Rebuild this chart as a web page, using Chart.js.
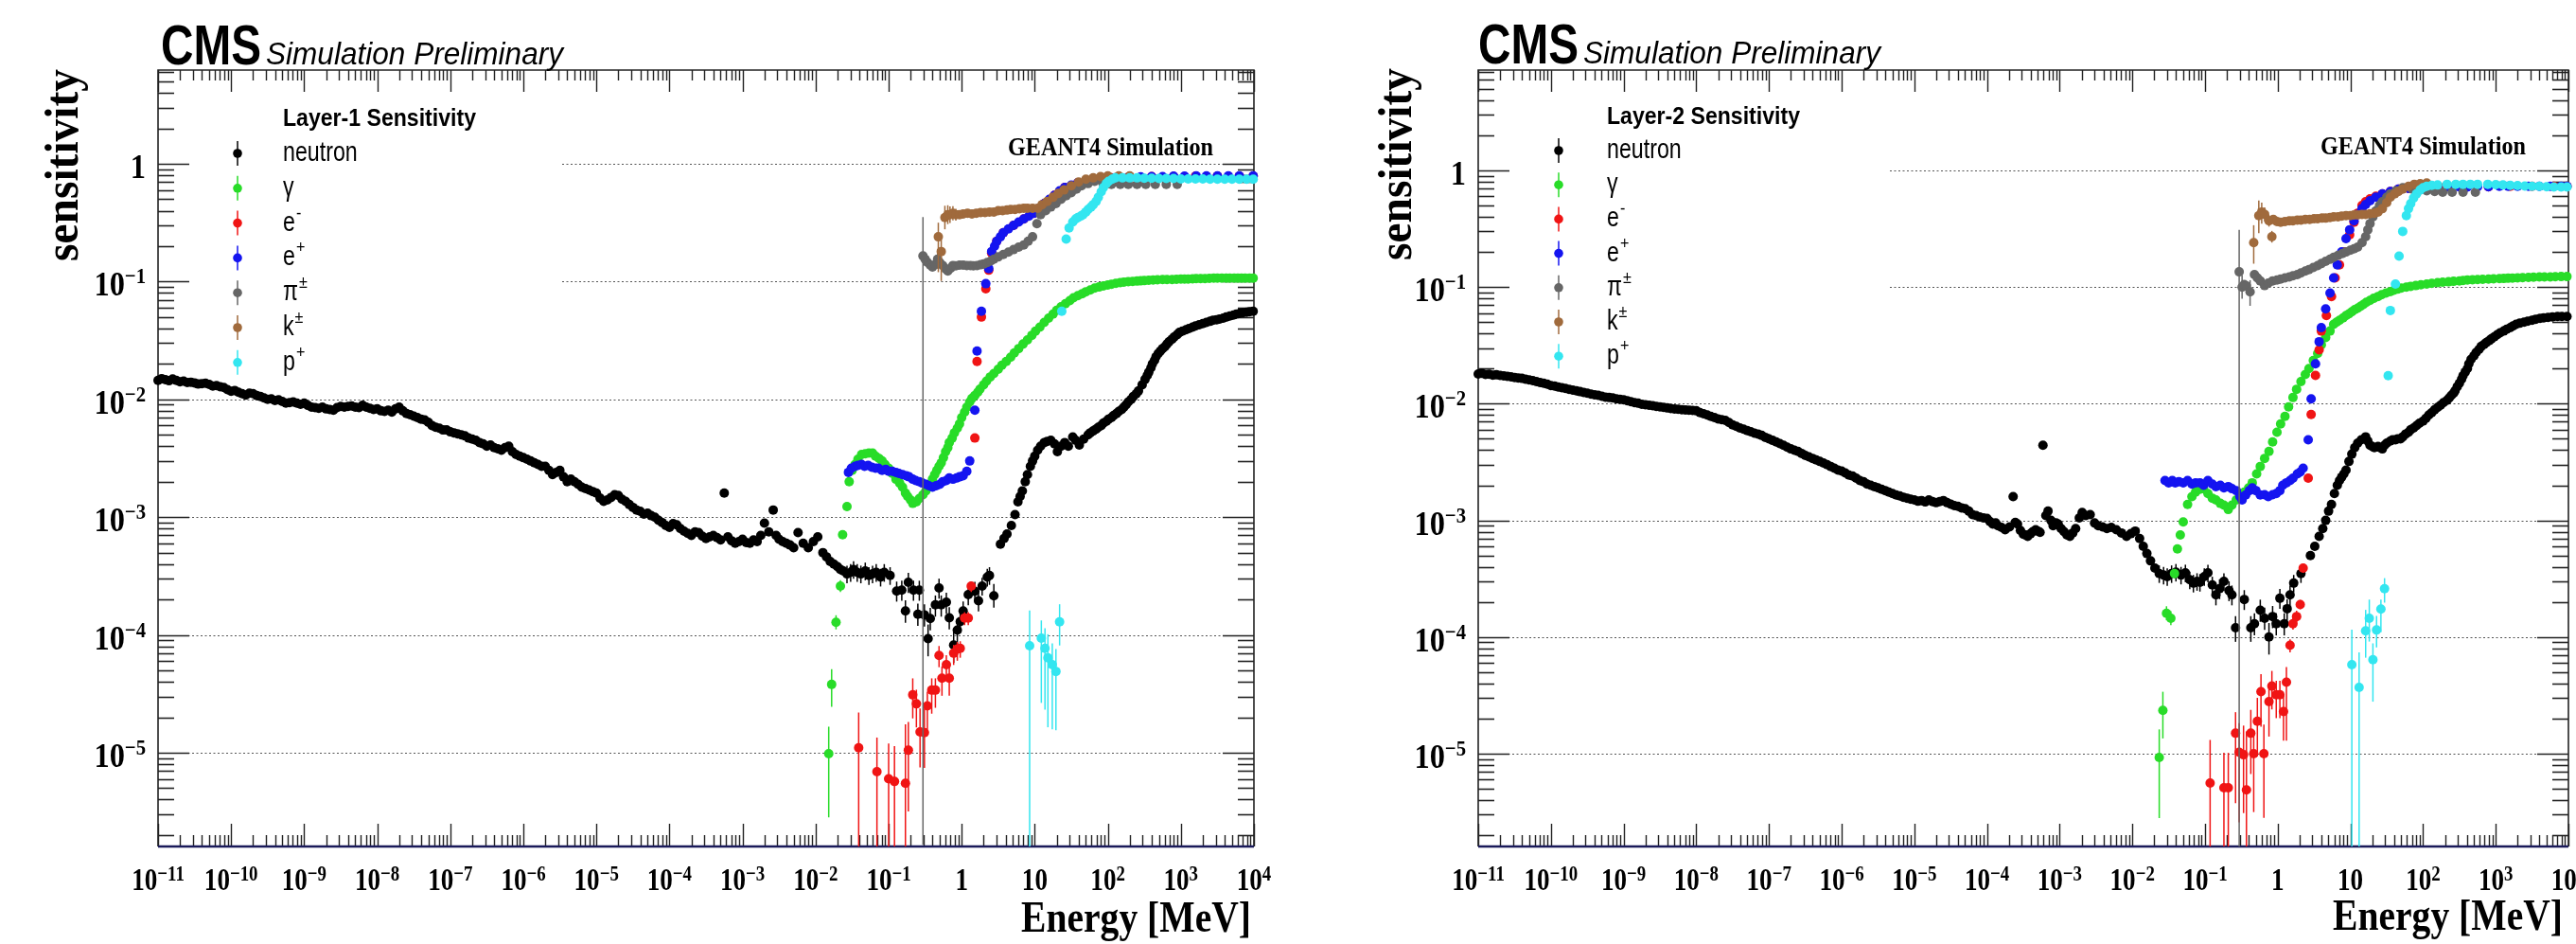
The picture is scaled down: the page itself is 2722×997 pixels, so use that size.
<!DOCTYPE html>
<html>
<head>
<meta charset="utf-8">
<title>CMS Simulation Preliminary - Layer sensitivity</title>
<script src="https://cdn.jsdelivr.net/npm/chart.js@4.4.1/dist/chart.umd.min.js"></script>
<style>
  html, body { margin:0; padding:0; background:#ffffff; }
  #wrap { position:relative; width:2722px; height:997px; overflow:hidden; background:#fff; }
  canvas { position:absolute; top:0; }
</style>
</head>
<body>
<div id="wrap">
  <canvas id="c1" width="1361" height="997" style="left:0px;width:1361px;height:997px"></canvas>
  <canvas id="c2" width="1361" height="997" style="left:1361px;width:1361px;height:997px"></canvas>
</div>
<script>
// ---------------- DATA (points are [log10(E/MeV), sensitivity, errDown(decades), errUp(decades)]) -------------
const seriesNames  = ['neutron', 'γ', 'e-', 'e+', 'π±', 'k±', 'p+'];
const seriesColors = ['#000000', '#28dc28', '#f01414', '#1414f0', '#666666', '#a06a3c', '#33e6f0'];
const legendLabels = [['neutron',''], ['γ',''], ['e','-'], ['e','+'], ['π','±'], ['k','±'], ['p','+']];
const panelTitles  = ['Layer-1 Sensitivity', 'Layer-2 Sensitivity'];

const xTickValues = [1e-11,1e-10,1e-9,1e-8,1e-7,1e-6,1e-5,1e-4,1e-3,1e-2,1e-1,1,10,100,1000,10000];
const xTickLabels = [['10','−11'],['10','−10'],['10','−9'],['10','−8'],['10','−7'],['10','−6'],['10','−5'],
                     ['10','−4'],['10','−3'],['10','−2'],['10','−1'],['1',''],['10',''],['10','2'],['10','3'],['10','4']];
const yTickValues = [1, 1e-1, 1e-2, 1e-3, 1e-4, 1e-5];
const yTickLabels = [['1',''],['10','−1'],['10','−2'],['10','−3'],['10','−4'],['10','−5']];

// ---- Layer-1 ----
const L1_neutron = [
[-11.0,1.45e-2],[-10.95,1.50e-2],[-10.9,1.47e-2],[-10.85,1.44e-2],[-10.8,1.49e-2],[-10.75,1.45e-2],[-10.7,1.41e-2],[-10.65,1.43e-2],[-10.6,1.39e-2],[-10.55,1.40e-2],
[-10.5,1.38e-2],[-10.45,1.35e-2],[-10.4,1.36e-2],[-10.35,1.37e-2],[-10.3,1.34e-2],[-10.25,1.30e-2],[-10.2,1.31e-2],[-10.15,1.28e-2],[-10.1,1.26e-2],[-10.05,1.21e-2],
[-10.0,1.17e-2],[-9.95,1.19e-2],[-9.9,1.15e-2],[-9.85,1.12e-2],[-9.8,1.09e-2],[-9.75,1.13e-2],[-9.7,1.12e-2],[-9.65,1.08e-2],[-9.6,1.06e-2],[-9.55,1.03e-2],
[-9.5,1.00e-2],[-9.45,1.01e-2],[-9.4,9.8e-3],[-9.35,9.9e-3],[-9.3,9.6e-3],[-9.25,9.3e-3],[-9.2,9.4e-3],[-9.15,9.5e-3],[-9.1,9.3e-3],[-9.05,9.1e-3],
[-9.0,9.3e-3],[-8.95,8.9e-3],[-8.9,8.6e-3],[-8.85,8.5e-3],[-8.8,8.4e-3],[-8.75,8.6e-3],[-8.7,8.3e-3],[-8.65,8.2e-3],[-8.6,8.1e-3],[-8.55,8.5e-3],
[-8.5,8.7e-3],[-8.45,8.6e-3],[-8.4,8.7e-3],[-8.35,8.8e-3],[-8.3,8.6e-3],[-8.25,8.5e-3],[-8.2,8.9e-3],[-8.15,8.6e-3],[-8.1,8.4e-3],[-8.05,8.2e-3],
[-8.0,8.3e-3],[-7.95,8.0e-3],[-7.9,7.9e-3],[-7.85,8.1e-3],[-7.8,7.8e-3],[-7.75,8.3e-3],[-7.7,8.6e-3],[-7.65,8.0e-3],[-7.6,7.6e-3],[-7.55,7.4e-3],
[-7.5,7.2e-3],[-7.45,7.0e-3],[-7.4,6.8e-3],[-7.35,6.7e-3],[-7.3,6.4e-3],[-7.25,6.0e-3],[-7.2,5.8e-3],[-7.15,5.7e-3],[-7.1,5.5e-3],[-7.05,5.5e-3],
[-7.0,5.3e-3],[-6.95,5.2e-3],[-6.9,5.1e-3],[-6.85,5.0e-3],[-6.8,4.9e-3],[-6.75,4.7e-3],[-6.7,4.6e-3],[-6.65,4.5e-3],[-6.6,4.3e-3],[-6.55,4.2e-3],
[-6.5,4.0e-3],[-6.45,4.1e-3],[-6.4,3.9e-3],[-6.35,3.8e-3],[-6.3,3.7e-3],[-6.25,3.9e-3],[-6.2,4.0e-3],[-6.15,3.6e-3],[-6.1,3.4e-3],[-6.05,3.3e-3],
[-6.0,3.2e-3],[-5.95,3.1e-3],[-5.9,3.0e-3],[-5.85,2.9e-3],[-5.8,2.8e-3],[-5.75,2.7e-3],[-5.7,2.7e-3],[-5.65,2.5e-3],[-5.6,2.3e-3],[-5.55,2.4e-3],
[-5.5,2.5e-3],[-5.45,2.2e-3],[-5.4,2.0e-3],[-5.35,2.1e-3],[-5.3,2.0e-3],[-5.25,1.9e-3],[-5.2,1.8e-3],[-5.15,1.75e-3],[-5.1,1.7e-3],[-5.05,1.65e-3],
[-5.0,1.6e-3],[-4.95,1.45e-3],[-4.9,1.36e-3],[-4.85,1.40e-3],[-4.8,1.47e-3],[-4.75,1.55e-3],[-4.7,1.53e-3],[-4.65,1.42e-3],[-4.6,1.36e-3],[-4.55,1.28e-3],
[-4.5,1.21e-3],[-4.45,1.15e-3],[-4.4,1.12e-3],[-4.35,1.06e-3],[-4.3,1.08e-3],[-4.25,1.03e-3],[-4.2,1.0e-3],[-4.15,9.4e-4],[-4.1,9.0e-4],[-4.05,8.5e-4],
[-4.0,8.2e-4],[-3.95,8.8e-4],[-3.9,8.6e-4],[-3.85,8.0e-4],[-3.8,7.6e-4],[-3.75,7.3e-4],[-3.7,7.0e-4],[-3.65,7.5e-4],[-3.6,7.4e-4],[-3.55,6.9e-4],
[-3.5,6.6e-4],[-3.45,6.8e-4],[-3.4,7.0e-4],[-3.35,6.7e-4],[-3.3,6.4e-4],[-3.25,1.6e-3],[-3.2,6.8e-4],[-3.15,6.3e-4],[-3.1,6.0e-4],[-3.05,6.2e-4],
[-3.0,6.5e-4],[-2.95,6.1e-4],[-2.9,6.0e-4],[-2.85,6.4e-4],[-2.8,6.2e-4],[-2.75,7.0e-4],[-2.7,8.9e-4],[-2.64,7.5e-4],[-2.58,1.15e-3],[-2.54,7.0e-4],
[-2.5,6.5e-4],[-2.45,6.2e-4],[-2.4,6.0e-4],[-2.35,5.8e-4],[-2.3,5.5e-4],[-2.24,7.4e-4],[-2.17,6.0e-4],[-2.1,5.5e-4],[-2.03,6.2e-4],[-1.97,6.8e-4],
[-1.9,5.0e-4],[-1.85,4.6e-4],[-1.8,4.2e-4],[-1.75,4.0e-4],[-1.7,3.8e-4],[-1.66,3.6e-4],[-1.62,3.5e-4],
[-1.57,3.3e-4,0.08,0.07],[-1.52,3.4e-4,0.08,0.07],[-1.48,3.6e-4,0.08,0.07],[-1.43,3.4e-4,0.08,0.07],[-1.38,3.3e-4,0.08,0.07],[-1.32,3.5e-4,0.08,0.07],
[-1.27,3.2e-4,0.08,0.07],[-1.22,3.3e-4,0.08,0.07],[-1.17,3.4e-4,0.08,0.07],[-1.11,3.1e-4,0.08,0.07],[-1.06,3.4e-4,0.08,0.07],
[-0.98,3.2e-4,0.08,0.07],[-0.89,2.36e-4,0.09,0.08],[-0.82,2.4e-4,0.09,0.08],[-0.77,1.6e-4,0.1,0.09],[-0.73,2.8e-4,0.09,0.08],[-0.66,2.4e-4,0.09,0.08],
[-0.60,1.5e-4,0.1,0.09],[-0.58,2.4e-4,0.09,0.08],[-0.51,1.48e-4,0.1,0.09],[-0.46,9.3e-5,0.15,0.12],[-0.43,1.38e-4,0.1,0.09],[-0.36,1.8e-4,0.1,0.08],
[-0.31,2.5e-4,0.09,0.08],[-0.28,1.8e-4,0.1,0.08],[-0.21,1.9e-4,0.1,0.08],[-0.17,1.4e-4,0.1,0.09],[-0.11,8.2e-5,0.15,0.12],[-0.06,1.1e-4,0.12,0.1],
[-0.02,1.3e-4,0.1,0.09],[0.02,1.6e-4,0.1,0.08],[0.09,2.2e-4,0.09,0.08],[0.18,2.35e-4,0.09,0.08],[0.23,1.95e-4,0.09,0.08],[0.28,2.6e-4,0.08,0.07],
[0.35,3.1e-4,0.08,0.07],[0.38,3.2e-4,0.08,0.07],[0.44,2.15e-4,0.1,0.1],
[0.53,5.9e-4],[0.58,6.6e-4],[0.62,7.2e-4],[0.68,8.5e-4],[0.73,1.05e-3],[0.77,1.35e-3],[0.80,1.5e-3],[0.83,1.67e-3],[0.87,2.0e-3],[0.90,2.3e-3],
[0.94,2.7e-3],[0.97,3.0e-3],[1.00,3.3e-3],[1.04,3.7e-3],[1.08,4.0e-3],[1.13,4.3e-3],[1.17,4.4e-3],[1.22,4.5e-3],[1.27,4.2e-3],[1.31,3.6e-3],
[1.36,4.0e-3],[1.41,4.3e-3],[1.46,4.0e-3],[1.52,4.8e-3],[1.56,4.5e-3],[1.61,4.1e-3],[1.67,4.6e-3],[1.73,5.0e-3],[1.76,5.2e-3],[1.80,5.4e-3],
[1.84,5.6e-3],[1.87,5.8e-3],[1.91,6.0e-3],[1.94,6.3e-3],[1.98,6.5e-3],[2.01,6.8e-3],[2.05,7.0e-3],[2.08,7.3e-3],[2.12,7.6e-3],[2.15,7.9e-3],
[2.19,8.2e-3],[2.22,8.6e-3],[2.25,9.0e-3],[2.28,9.5e-3],[2.32,1.0e-2],[2.35,1.06e-2],[2.39,1.12e-2],[2.42,1.18e-2],[2.47,1.33e-2],[2.51,1.48e-2],
[2.54,1.6e-2],[2.56,1.7e-2],[2.59,1.85e-2],[2.61,2.0e-2],[2.64,2.15e-2],[2.66,2.3e-2],[2.69,2.45e-2],[2.72,2.57e-2],[2.75,2.7e-2],[2.78,2.8e-2],
[2.81,2.95e-2],[2.84,3.1e-2],[2.88,3.25e-2],[2.91,3.4e-2],[2.95,3.55e-2],[2.98,3.7e-2],[3.02,3.8e-2],[3.07,3.9e-2],[3.11,4.0e-2],[3.16,4.1e-2],
[3.20,4.2e-2],[3.25,4.3e-2],[3.30,4.4e-2],[3.35,4.5e-2],[3.40,4.6e-2],[3.44,4.7e-2],[3.49,4.75e-2],[3.53,4.8e-2],[3.58,4.9e-2],[3.62,5.0e-2],
[3.67,5.1e-2],[3.72,5.2e-2],[3.76,5.3e-2],[3.81,5.4e-2],[3.85,5.45e-2],[3.90,5.5e-2],[3.94,5.55e-2],[3.99,5.6e-2]
];
const L1_gamma = [
[-1.82,9.8e-6,0.54,0.23],[-1.78,3.8e-5,0.19,0.13],[-1.72,1.28e-4,0.06,0.06],[-1.66,2.6e-4,0.05,0.05],[-1.63,7.1e-4],[-1.57,1.23e-3],[-1.54,2.0e-3],
[-1.50,2.5e-3],[-1.46,2.8e-3],[-1.42,3.1e-3],[-1.37,3.4e-3],[-1.32,3.45e-3],[-1.27,3.5e-3],[-1.22,3.5e-3],[-1.18,3.3e-3],[-1.13,3.15e-3],[-1.09,3.0e-3],
[-1.05,2.8e-3],[-1.00,2.6e-3],[-0.95,2.35e-3],[-0.90,2.1e-3],[-0.85,1.95e-3],[-0.81,1.8e-3],[-0.77,1.6e-3],[-0.74,1.5e-3],[-0.70,1.4e-3],[-0.67,1.31e-3],
[-0.62,1.35e-3],[-0.58,1.44e-3],[-0.53,1.55e-3],[-0.49,1.67e-3],[-0.45,1.85e-3],[-0.40,2.1e-3],[-0.37,2.3e-3],[-0.34,2.5e-3],[-0.31,2.7e-3],[-0.28,2.9e-3],
[-0.25,3.2e-3],[-0.22,3.6e-3],[-0.19,3.9e-3],[-0.17,4.3e-3],[-0.13,4.7e-3],[-0.10,5.2e-3],[-0.06,5.7e-3],[-0.03,6.2e-3],[0.00,7.0e-3],[0.04,7.8e-3],
[0.07,8.6e-3],[0.11,9.5e-3],[0.14,1.02e-2],[0.18,1.08e-2],[0.22,1.15e-2],[0.25,1.22e-2],[0.30,1.33e-2],[0.34,1.43e-2],[0.39,1.55e-2],[0.44,1.66e-2],
[0.50,1.8e-2],[0.55,1.95e-2],[0.61,2.1e-2],[0.67,2.28e-2],[0.72,2.48e-2],[0.78,2.7e-2],[0.84,2.95e-2],[0.90,3.2e-2],[0.96,3.5e-2],
[1.01,3.8e-2],[1.07,4.1e-2],[1.13,4.5e-2],[1.19,4.9e-2],[1.25,5.3e-2],[1.30,5.7e-2],[1.36,6.1e-2],[1.42,6.5e-2],[1.48,6.9e-2],[1.53,7.3e-2],
[1.59,7.6e-2],[1.65,7.9e-2],[1.70,8.2e-2],[1.76,8.5e-2],[1.82,8.8e-2],[1.88,9.0e-2],[1.94,9.2e-2],[2.00,9.35e-2],[2.05,9.5e-2],[2.11,9.65e-2],
[2.17,9.8e-2],[2.22,9.9e-2],[2.28,0.100],[2.34,0.1005],[2.40,0.101],[2.45,0.1015],[2.50,0.102],[2.56,0.1025],[2.62,0.103],[2.68,0.1035],
[2.75,0.104],[2.81,0.104],[2.88,0.104],[2.94,0.1045],[3.00,0.105],[3.05,0.105],[3.10,0.105],[3.16,0.1055],[3.21,0.106],[3.27,0.106],
[3.33,0.106],[3.39,0.1065],[3.45,0.107],[3.50,0.107],[3.56,0.107],[3.62,0.107],[3.67,0.107],[3.73,0.107],[3.78,0.107],[3.83,0.107],
[3.88,0.107],[3.94,0.107],[3.99,0.107]
];
const L1_eminus = [
[-1.41,1.1e-5,3,0.3],[-1.16,6.9e-6,3,0.29],[-1.00,6.0e-6,3,0.3],[-0.92,5.7e-6,3,0.3],[-0.77,5.5e-6,3,0.5],[-0.73,1.05e-5,0.52,0.24],
[-0.67,3.1e-5,0.2,0.14],[-0.62,2.6e-5,0.2,0.12],[-0.57,1.5e-5,0.3,0.2],[-0.51,1.48e-5,0.3,0.2],[-0.47,2.5e-5,0.2,0.12],[-0.41,3.4e-5,0.2,0.1],
[-0.36,3.4e-5,0.15,0.1],[-0.31,6.7e-5,0.1,0.08],[-0.27,4.3e-5,0.15,0.1],[-0.21,5.6e-5,0.12,0.08],[-0.17,4.3e-5,0.15,0.1],[-0.11,7.0e-5,0.1,0.07],
[-0.06,7.6e-5,0.1,0.06],[-0.02,7.7e-5,0.08,0.06],[0.04,1.39e-4,0.06,0.05],[0.09,1.39e-4,0.06,0.05],[0.13,2.6e-4,0.05,0.04],
[0.18,4.7e-3],[0.21,2.1e-2],[0.27,5.0e-2],[0.33,8.7e-2],[0.37,0.125],[0.41,0.175],[0.48,0.22],[0.57,0.26],[0.71,0.30],[0.85,0.34],[0.99,0.38],
[1.13,0.46],[1.27,0.54],[1.41,0.63],[1.59,0.69],[1.82,0.73],[2.05,0.76],[2.3,0.77],[2.6,0.78],[2.9,0.78],[3.2,0.785],[3.5,0.785],[3.8,0.785],[3.99,0.785]
];
const L1_eplus = [
[-1.55,2.4e-3],[-1.51,2.6e-3],[-1.46,2.7e-3],[-1.42,2.75e-3],[-1.37,2.8e-3],[-1.33,2.7e-3],[-1.28,2.75e-3],[-1.23,2.65e-3],[-1.18,2.6e-3],[-1.14,2.6e-3],
[-1.09,2.5e-3],[-1.04,2.55e-3],[-1.00,2.45e-3],[-0.95,2.45e-3],[-0.90,2.4e-3],[-0.86,2.35e-3],[-0.81,2.3e-3],[-0.76,2.25e-3],[-0.72,2.2e-3],[-0.67,2.1e-3],
[-0.63,2.05e-3],[-0.58,2.0e-3],[-0.54,1.95e-3],[-0.49,1.9e-3],[-0.45,1.85e-3],[-0.40,1.8e-3],[-0.35,1.85e-3],[-0.30,1.9e-3],[-0.26,2.0e-3],[-0.21,2.05e-3],
[-0.17,2.15e-3],[-0.12,2.1e-3],[-0.07,2.15e-3],[-0.03,2.2e-3],[0.02,2.25e-3],[0.07,2.45e-3],[0.11,3.0e-3],[0.18,8.1e-3],[0.21,2.57e-2],[0.27,5.6e-2],
[0.33,9.6e-2],[0.37,0.129],[0.41,0.18],[0.45,0.20],[0.48,0.22],[0.53,0.24],[0.57,0.26],[0.64,0.28],[0.71,0.30],[0.78,0.32],[0.85,0.34],[0.92,0.36],
[0.99,0.38],[1.06,0.42],[1.13,0.46],[1.20,0.50],[1.27,0.54],[1.34,0.59],[1.41,0.63],[1.50,0.66],[1.59,0.69],[1.70,0.71],[1.82,0.73],[1.95,0.75],
[2.10,0.76],[2.28,0.77],[2.45,0.775],[2.60,0.78],[2.75,0.78],[2.90,0.785],[3.05,0.785],[3.21,0.79],[3.35,0.79],[3.50,0.79],[3.65,0.79],[3.80,0.79],[3.99,0.79]
];
const L1_pion = [
[-0.53,0.165,5,0.33],[-0.50,0.155],[-0.47,0.146],[-0.43,0.138],[-0.40,0.133],[-0.36,0.14],[-0.33,0.155,0.08,0.07],[-0.30,0.145],[-0.26,0.137],
[-0.22,0.128],[-0.19,0.123],[-0.15,0.13],[-0.12,0.137],[-0.08,0.136],[-0.03,0.138],[0.02,0.138],[0.07,0.137],[0.12,0.137],[0.16,0.136],[0.21,0.137],
[0.26,0.139],[0.30,0.141],[0.35,0.145],[0.40,0.15],[0.44,0.155],[0.50,0.162],[0.57,0.17],[0.64,0.178],[0.71,0.187],[0.78,0.196],[0.85,0.205],
[0.91,0.22],[0.97,0.24],[1.03,0.31],[1.08,0.37],[1.15,0.40],[1.22,0.43],[1.29,0.46],[1.36,0.50],[1.43,0.535],[1.50,0.57],[1.57,0.61],[1.64,0.65],
[1.73,0.68],[1.82,0.71],[1.93,0.69],[2.05,0.67],[2.17,0.67],[2.28,0.67],[2.40,0.67],[2.52,0.67],[2.65,0.67],[2.80,0.67],[2.95,0.67]
];
const L1_kaon = [
[-0.32,0.24,0.3,0.12],[-0.28,0.18,0.25,0.1],[-0.23,0.35,0.1,0.1],[-0.19,0.37,0.08,0.08],[-0.16,0.37,0.07,0.07],[-0.12,0.38,0.06,0.06],
[-0.08,0.37,0.05,0.05],[-0.03,0.37],[0.02,0.375],[0.08,0.38],[0.14,0.375],[0.20,0.38],[0.26,0.385],[0.32,0.385],[0.38,0.39],[0.44,0.39],[0.50,0.40],
[0.56,0.40],[0.62,0.405],[0.67,0.41],[0.73,0.41],[0.79,0.415],[0.85,0.42],[0.90,0.42],[0.97,0.42],[1.04,0.42],[1.10,0.45],[1.17,0.48],[1.25,0.52],
[1.32,0.56],[1.40,0.60],[1.50,0.65],[1.60,0.70],[1.70,0.74],[1.80,0.76],[1.90,0.78],[2.00,0.79],[2.15,0.79],[2.30,0.79]
];
const L1_proton = [
[0.93,8.1e-5,5,0.3],[1.09,9.4e-5,0.55,0.15],[1.14,7.7e-5,0.52,0.17],[1.18,6.4e-5,0.59,0.2],[1.24,5.6e-5,0.55,0.18],[1.29,4.9e-5,0.5,0.19],
[1.34,1.29e-4,0.2,0.15],
[1.37,5.6e-2],[1.43,0.23],[1.47,0.285],[1.52,0.32],[1.56,0.34],[1.59,0.35],[1.63,0.36],[1.66,0.37],[1.70,0.39],[1.73,0.41],[1.77,0.43],[1.80,0.45],
[1.84,0.48],[1.87,0.52],[1.91,0.58],[1.94,0.63],[1.98,0.68],[2.01,0.71],[2.06,0.74],[2.10,0.76],[2.20,0.76],[2.30,0.76],[2.40,0.76],[2.50,0.755],
[2.60,0.755],[2.70,0.75],[2.80,0.75],[2.90,0.75],[3.00,0.745],[3.10,0.745],[3.20,0.745],[3.30,0.745],[3.40,0.74],[3.50,0.74],[3.60,0.74],[3.70,0.74],
[3.80,0.74],[3.90,0.74],[3.99,0.74]
];

// ---- Layer-2 ----
const L2_neutron = [
[-11.0,1.80e-2],[-10.95,1.82e-2],[-10.9,1.78e-2],[-10.85,1.79e-2],[-10.8,1.76e-2],[-10.75,1.77e-2],[-10.7,1.75e-2],[-10.65,1.73e-2],[-10.6,1.72e-2],[-10.55,1.70e-2],
[-10.5,1.68e-2],[-10.45,1.66e-2],[-10.4,1.65e-2],[-10.35,1.62e-2],[-10.3,1.60e-2],[-10.25,1.58e-2],[-10.2,1.55e-2],[-10.15,1.52e-2],[-10.1,1.50e-2],[-10.05,1.47e-2],
[-10.0,1.43e-2],[-9.95,1.42e-2],[-9.9,1.39e-2],[-9.85,1.37e-2],[-9.8,1.35e-2],[-9.75,1.33e-2],[-9.7,1.31e-2],[-9.65,1.29e-2],[-9.6,1.27e-2],[-9.55,1.25e-2],
[-9.5,1.23e-2],[-9.45,1.21e-2],[-9.4,1.19e-2],[-9.35,1.18e-2],[-9.3,1.16e-2],[-9.25,1.14e-2],[-9.2,1.13e-2],[-9.15,1.12e-2],[-9.1,1.10e-2],[-9.05,1.09e-2],
[-9.0,1.08e-2],[-8.95,1.06e-2],[-8.9,1.04e-2],[-8.85,1.02e-2],[-8.8,1.01e-2],[-8.75,9.9e-3],[-8.7,9.8e-3],[-8.65,9.7e-3],[-8.6,9.6e-3],[-8.55,9.5e-3],
[-8.5,9.4e-3],[-8.45,9.3e-3],[-8.4,9.2e-3],[-8.35,9.1e-3],[-8.3,9.0e-3],[-8.25,8.95e-3],[-8.2,8.9e-3],[-8.15,8.85e-3],[-8.1,8.8e-3],[-8.05,8.75e-3],
[-8.0,8.7e-3],[-7.95,8.4e-3],[-7.9,8.2e-3],[-7.85,8.0e-3],[-7.8,7.8e-3],[-7.75,7.6e-3],[-7.7,7.4e-3],[-7.65,7.3e-3],[-7.6,7.2e-3],[-7.55,6.9e-3],
[-7.5,6.6e-3],[-7.45,6.4e-3],[-7.4,6.2e-3],[-7.35,6.05e-3],[-7.3,5.9e-3],[-7.25,5.75e-3],[-7.2,5.6e-3],[-7.15,5.5e-3],[-7.1,5.35e-3],[-7.05,5.15e-3],
[-7.0,5.0e-3],[-6.95,4.85e-3],[-6.9,4.7e-3],[-6.85,4.55e-3],[-6.8,4.4e-3],[-6.75,4.25e-3],[-6.7,4.1e-3],[-6.65,4.0e-3],[-6.6,3.9e-3],[-6.55,3.75e-3],
[-6.5,3.6e-3],[-6.45,3.5e-3],[-6.4,3.4e-3],[-6.35,3.3e-3],[-6.3,3.2e-3],[-6.25,3.1e-3],[-6.2,3.0e-3],[-6.15,2.9e-3],[-6.1,2.8e-3],[-6.05,2.7e-3],
[-6.0,2.65e-3],[-5.95,2.55e-3],[-5.9,2.45e-3],[-5.85,2.4e-3],[-5.8,2.3e-3],[-5.75,2.2e-3],[-5.7,2.15e-3],[-5.65,2.05e-3],[-5.6,2.0e-3],[-5.55,1.95e-3],
[-5.5,1.9e-3],[-5.45,1.85e-3],[-5.4,1.8e-3],[-5.35,1.75e-3],[-5.3,1.7e-3],[-5.25,1.65e-3],[-5.2,1.62e-3],[-5.15,1.58e-3],[-5.1,1.55e-3],[-5.05,1.52e-3],
[-5.0,1.5e-3],[-4.95,1.46e-3],[-4.9,1.48e-3],[-4.85,1.44e-3],[-4.8,1.5e-3],[-4.75,1.45e-3],[-4.7,1.42e-3],[-4.65,1.45e-3],[-4.6,1.48e-3],[-4.55,1.42e-3],
[-4.5,1.38e-3],[-4.45,1.34e-3],[-4.4,1.32e-3],[-4.35,1.28e-3],[-4.3,1.26e-3],[-4.25,1.2e-3],[-4.2,1.12e-3],[-4.15,1.1e-3],[-4.1,1.07e-3],[-4.05,1.05e-3],
[-4.0,1.04e-3],[-3.96,9.8e-4],[-3.92,9.3e-4],[-3.88,9.5e-4],[-3.85,9.0e-4],[-3.8,8.7e-4],[-3.75,8.3e-4],[-3.69,8.8e-4],[-3.64,1.6e-3],[-3.61,9.6e-4],
[-3.58,9.3e-4],[-3.54,8.2e-4],[-3.50,7.6e-4],[-3.47,7.5e-4],[-3.44,7.3e-4],[-3.40,7.7e-4],[-3.37,8.0e-4],[-3.33,8.3e-4],[-3.30,8.1e-4],[-3.27,7.9e-4],
[-3.23,4.4e-3],[-3.19,1.1e-3],[-3.16,1.2e-3],[-3.12,1.0e-3],[-3.09,9.0e-4],[-3.05,9.5e-4],[-3.02,9.3e-4],[-2.98,8.5e-4],[-2.94,8.0e-4],[-2.90,7.5e-4],
[-2.86,7.3e-4],[-2.82,7.8e-4],[-2.78,8.5e-4],[-2.73,1.05e-3],[-2.69,1.17e-3],[-2.64,1.1e-3],[-2.58,1.12e-3],[-2.52,9.5e-4],[-2.47,9.0e-4],[-2.41,8.8e-4],
[-2.35,8.5e-4],[-2.29,8.7e-4],[-2.22,8.3e-4],[-2.15,7.8e-4],[-2.08,7.3e-4],[-2.02,7.7e-4],[-1.96,8.1e-4],[-1.90,7.0e-4],[-1.85,6.0e-4],[-1.80,5.2e-4],
[-1.75,4.5e-4],[-1.69,3.9e-4],
[-1.63,3.5e-4,0.08,0.07],[-1.57,3.4e-4,0.08,0.07],[-1.52,3.3e-4,0.08,0.07],[-1.46,3.5e-4,0.08,0.07],[-1.40,3.6e-4,0.08,0.07],[-1.33,3.4e-4,0.08,0.07],
[-1.27,3.55e-4,0.08,0.07],[-1.21,3.1e-4,0.08,0.07],[-1.16,2.9e-4,0.08,0.07],[-1.11,3.0e-4,0.08,0.07],[-1.07,2.95e-4,0.08,0.07],[-1.01,3.3e-4,0.08,0.07],
[-0.96,3.55e-4,0.08,0.07],[-0.90,2.8e-4,0.08,0.07],[-0.85,2.3e-4,0.09,0.08],[-0.80,2.6e-4,0.09,0.08],[-0.74,3.0e-4,0.08,0.07],[-0.67,2.5e-4,0.09,0.08],
[-0.63,2.3e-4,0.09,0.08],[-0.58,1.2e-4,0.12,0.1],
[-0.46,2.1e-4,0.09,0.08],[-0.37,1.2e-4,0.12,0.1],[-0.32,1.3e-4,0.1,0.09],[-0.24,1.7e-4,0.1,0.09],[-0.18,1.45e-4,0.1,0.09],[-0.12,1.0e-4,0.15,0.12],
[-0.07,1.5e-4,0.1,0.09],[-0.02,1.3e-4,0.1,0.09],[0.03,2.15e-4,0.09,0.08],[0.09,1.3e-4,0.1,0.09],[0.13,1.75e-4,0.1,0.08],[0.17,2.3e-4,0.09,0.08],
[0.22,2.9e-4,0.08,0.07],[0.32,3.5e-4,0.08,0.07],
[0.45,5.0e-4],[0.51,6.0e-4],[0.57,7.3e-4],[0.62,8.5e-4],[0.66,1.0e-3],[0.70,1.2e-3],[0.74,1.37e-3],[0.78,1.7e-3],[0.82,2.0e-3],[0.85,2.2e-3],[0.88,2.35e-3],
[0.91,2.5e-3],[0.94,2.7e-3],[0.98,3.2e-3],[1.02,3.7e-3],[1.06,4.2e-3],[1.10,4.6e-3],[1.15,4.9e-3],[1.21,5.2e-3],[1.24,4.8e-3],[1.27,4.4e-3],
[1.30,4.3e-3],[1.33,4.2e-3],[1.38,4.3e-3],[1.41,4.2e-3],[1.44,4.1e-3],[1.47,4.4e-3],[1.50,4.6e-3],[1.55,4.8e-3],[1.58,4.9e-3],[1.62,4.9e-3],
[1.65,5.0e-3],[1.69,5.0e-3],[1.72,5.2e-3],[1.76,5.5e-3],[1.80,5.7e-3],[1.83,6.0e-3],[1.87,6.2e-3],[1.91,6.5e-3],[1.95,6.8e-3],[2.00,7.1e-3],
[2.04,7.5e-3],[2.08,8.0e-3],[2.12,8.4e-3],[2.16,8.9e-3],[2.20,9.3e-3],[2.24,9.7e-3],[2.28,1.02e-2],[2.33,1.07e-2],[2.36,1.12e-2],[2.39,1.18e-2],
[2.42,1.23e-2],[2.44,1.29e-2],[2.47,1.4e-2],[2.50,1.5e-2],[2.53,1.62e-2],[2.55,1.74e-2],[2.58,1.87e-2],[2.61,2.0e-2],[2.63,2.2e-2],[2.66,2.4e-2],
[2.70,2.58e-2],[2.73,2.75e-2],[2.77,2.92e-2],[2.80,3.1e-2],[2.84,3.22e-2],[2.87,3.35e-2],[2.91,3.48e-2],[2.94,3.6e-2],[2.98,3.75e-2],[3.02,3.9e-2],
[3.06,4.05e-2],[3.11,4.2e-2],[3.15,4.35e-2],[3.20,4.5e-2],[3.24,4.65e-2],[3.28,4.8e-2],[3.33,4.9e-2],[3.39,5.0e-2],[3.44,5.1e-2],[3.50,5.2e-2],
[3.55,5.3e-2],[3.61,5.4e-2],[3.66,5.45e-2],[3.72,5.5e-2],[3.78,5.55e-2],[3.85,5.6e-2],[3.91,5.6e-2],[3.98,5.6e-2]
];
const L2_gamma = [
[-1.63,9.3e-6,0.52,0.24],[-1.58,2.35e-5,0.24,0.16],[-1.53,1.6e-4,0.06,0.06],[-1.47,1.45e-4,0.06,0.06],[-1.42,3.5e-4,0.04,0.04],[-1.38,5.7e-4],
[-1.34,7.5e-4],[-1.30,9.7e-4],[-1.24,1.37e-3],[-1.18,1.6e-3],[-1.13,1.75e-3],[-1.07,1.85e-3],[-1.02,1.87e-3],[-0.96,1.7e-3],[-0.90,1.55e-3],
[-0.85,1.5e-3],[-0.79,1.4e-3],[-0.74,1.35e-3],[-0.68,1.24e-3],[-0.63,1.35e-3],[-0.57,1.5e-3],[-0.52,1.6e-3],[-0.46,1.75e-3],[-0.40,1.9e-3],
[-0.35,2.1e-3],[-0.29,2.5e-3],[-0.24,2.9e-3],[-0.18,3.4e-3],[-0.12,3.9e-3],[-0.07,4.7e-3],[-0.01,5.7e-3],[0.04,6.7e-3],[0.10,7.8e-3],[0.15,9.4e-3],
[0.21,1.13e-2],[0.26,1.33e-2],[0.32,1.55e-2],[0.38,1.78e-2],[0.43,2.0e-2],[0.49,2.35e-2],[0.55,2.7e-2],[0.60,3.2e-2],[0.66,3.7e-2],[0.72,4.2e-2],
[0.77,4.8e-2],[0.81,5.0e-2],[0.85,5.2e-2],[0.90,5.45e-2],[0.94,5.7e-2],[0.98,5.9e-2],[1.02,6.15e-2],[1.06,6.4e-2],[1.10,6.6e-2],[1.14,6.85e-2],
[1.18,7.1e-2],[1.22,7.4e-2],[1.27,7.7e-2],[1.32,8.0e-2],[1.38,8.3e-2],[1.43,8.6e-2],[1.49,8.9e-2],[1.55,9.15e-2],[1.60,9.4e-2],[1.65,9.6e-2],
[1.70,9.8e-2],[1.77,0.100],[1.83,0.1015],[1.90,0.103],[1.97,0.1045],[2.05,0.106],[2.12,0.1075],[2.20,0.109],[2.27,0.110],[2.35,0.111],
[2.42,0.112],[2.50,0.113],[2.55,0.114],[2.61,0.115],[2.68,0.1155],[2.75,0.116],[2.82,0.1165],[2.90,0.117],[2.97,0.1175],[3.05,0.118],
[3.11,0.1185],[3.17,0.119],[3.23,0.1195],[3.30,0.120],[3.37,0.1205],[3.45,0.121],[3.52,0.1215],[3.60,0.122],[3.67,0.122],[3.75,0.122],
[3.82,0.1225],[3.90,0.123],[3.98,0.123]
];
const L2_eminus = [
[-0.93,5.6e-6,5,0.37],[-0.74,5.1e-6,5,0.3],[-0.68,5.1e-6,5,0.3],[-0.58,1.5e-5,0.6,0.18],[-0.53,1.03e-5,0.6,0.25],[-0.47,9.8e-6,0.5,0.25],
[-0.43,4.9e-6,5,0.5],[-0.37,1.5e-5,0.35,0.2],[-0.33,1.0e-5,0.5,0.2],[-0.28,1.9e-5,0.3,0.2],[-0.23,3.4e-5,0.3,0.15],[-0.19,1.0e-5,0.55,0.25],
[-0.12,2.8e-5,0.3,0.15],[-0.08,3.8e-5,0.2,0.13],[-0.02,3.2e-5,0.2,0.12],[0.03,3.2e-5,0.2,0.12],[0.08,2.3e-5,0.25,0.15],[0.12,4.1e-5,0.5,0.13],
[0.17,8.5e-5,0.06,0.05],[0.21,1.3e-4,0.05,0.05],[0.26,1.5e-4,0.05,0.05],[0.31,1.9e-4,0.04,0.04],[0.35,3.9e-4,0.04,0.04],
[0.42,2.3e-3],[0.46,8.1e-3],[0.52,1.75e-2],[0.57,2.9e-2],[0.60,4.2e-2],[0.67,5.7e-2],[0.74,8.3e-2],[0.79,0.12],[0.85,0.155],[0.92,0.20],[0.99,0.28],
[1.05,0.36],[1.10,0.43],[1.16,0.50],[1.21,0.54],[1.27,0.57],[1.35,0.60],[1.44,0.63],[1.55,0.66],[1.66,0.69],[1.80,0.70],[1.95,0.71],[2.10,0.71],
[2.30,0.72],[2.60,0.72],[2.90,0.725],[3.20,0.73],[3.50,0.73],[3.80,0.73],[3.98,0.73]
];
const L2_eplus = [
[-1.55,2.2e-3],[-1.50,2.1e-3],[-1.45,2.2e-3],[-1.41,2.1e-3],[-1.36,2.15e-3],[-1.30,2.1e-3],[-1.24,2.2e-3],[-1.18,2.05e-3],[-1.13,2.1e-3],[-1.07,2.1e-3],
[-1.02,2.0e-3],[-0.96,2.2e-3],[-0.90,2.05e-3],[-0.85,1.95e-3],[-0.79,2.0e-3],[-0.74,1.9e-3],[-0.68,1.95e-3],[-0.63,1.87e-3],[-0.57,1.8e-3],[-0.52,1.6e-3],
[-0.49,1.5e-3],[-0.44,1.65e-3],[-0.39,1.8e-3],[-0.35,1.9e-3],[-0.30,1.8e-3],[-0.24,1.65e-3],[-0.18,1.66e-3],[-0.13,1.6e-3],[-0.07,1.66e-3],[-0.02,1.7e-3],
[0.03,1.8e-3],[0.07,2.0e-3],[0.12,2.1e-3],[0.17,2.2e-3],[0.21,2.3e-3],[0.27,2.5e-3],[0.31,2.6e-3],[0.35,2.8e-3],[0.42,4.9e-3],[0.46,1.1e-2],
[0.52,2.2e-2],[0.57,3.4e-2],[0.60,4.5e-2],[0.66,6.5e-2],[0.72,8.9e-2],[0.77,0.12],[0.82,0.155],[0.88,0.20],[0.94,0.26],[0.99,0.31],[1.05,0.37],
[1.10,0.42],[1.16,0.47],[1.21,0.51],[1.27,0.55],[1.35,0.59],[1.44,0.63],[1.55,0.66],[1.66,0.69],[1.80,0.70],[1.95,0.71],[2.05,0.71],[2.20,0.715],
[2.35,0.72],[2.50,0.72],[2.61,0.72],[2.75,0.725],[2.90,0.725],[3.05,0.73],[3.17,0.73],[3.30,0.73],[3.45,0.73],[3.60,0.73],[3.75,0.73],[3.90,0.73],[3.98,0.73]
];
const L2_pion = [
[-0.53,0.135,5,0.36],[-0.49,0.10,0.1,0.1],[-0.46,0.105],[-0.43,0.102],[-0.38,0.091,0.12,0.1],[-0.32,0.128],[-0.28,0.12],[-0.24,0.113],[-0.18,0.103],
[-0.13,0.108],[-0.07,0.113],[-0.01,0.115],[0.04,0.117],[0.10,0.12],[0.16,0.122],[0.21,0.125],[0.27,0.128],[0.32,0.132],[0.38,0.137],[0.43,0.141],
[0.49,0.147],[0.55,0.153],[0.60,0.159],[0.66,0.166],[0.72,0.173],[0.77,0.18],[0.83,0.187],[0.89,0.194],[0.94,0.20],[1.00,0.207],[1.05,0.213],
[1.10,0.22],[1.16,0.24],[1.21,0.27],[1.24,0.31],[1.27,0.35],[1.31,0.40],[1.35,0.45],[1.40,0.50],[1.44,0.54],[1.50,0.59],[1.55,0.63],[1.63,0.67],
[1.72,0.71],[1.85,0.69],[1.95,0.68],[2.05,0.67],[2.16,0.66],[2.27,0.65],[2.40,0.65],[2.55,0.65],[2.72,0.65]
];
const L2_kaon = [
[-0.33,0.24,0.18,0.15],[-0.26,0.41,0.15,0.13],[-0.22,0.44,0.1,0.08],[-0.18,0.42,0.06,0.06],[-0.12,0.37,0.05,0.05],[-0.08,0.27,0.05,0.05],
[-0.06,0.38],[-0.01,0.365],[0.04,0.36],[0.10,0.365],[0.16,0.37],[0.21,0.37],[0.27,0.375],[0.32,0.375],[0.38,0.38],[0.44,0.38],[0.50,0.385],
[0.55,0.385],[0.61,0.39],[0.66,0.39],[0.72,0.395],[0.77,0.40],[0.83,0.40],[0.88,0.405],[0.94,0.41],[1.00,0.41],[1.05,0.415],[1.10,0.415],
[1.16,0.42],[1.21,0.42],[1.27,0.425],[1.33,0.43],[1.38,0.44],[1.44,0.47],[1.50,0.53],[1.55,0.59],[1.61,0.63],[1.66,0.66],[1.72,0.69],[1.80,0.73],
[1.88,0.76],[1.96,0.77],[2.05,0.78]
];
const L2_proton = [
[1.02,5.8e-5,5,0.3],[1.12,3.7e-5,5,0.3],[1.21,1.13e-4,0.23,0.18],[1.26,1.45e-4,0.2,0.16],[1.31,6.4e-5,0.36,0.14],[1.36,1.15e-4,0.15,0.12],
[1.42,1.74e-4,0.2,0.08],[1.47,2.6e-4,0.12,0.09],
[1.52,1.74e-2],[1.55,6.3e-2],[1.62,0.106],[1.67,0.184],[1.72,0.30],[1.77,0.41],[1.80,0.47],[1.83,0.52],[1.87,0.58],[1.91,0.63],[1.96,0.68],
[2.00,0.71],[2.05,0.73],[2.12,0.745],[2.20,0.75],[2.33,0.76],[2.45,0.76],[2.55,0.76],[2.65,0.76],[2.75,0.76],[2.89,0.76],[3.00,0.755],[3.10,0.75],
[3.20,0.745],[3.30,0.74],[3.40,0.735],[3.50,0.73],[3.60,0.73],[3.70,0.725],[3.80,0.72],[3.90,0.72],[3.98,0.72]
];

const layer1 = [L1_neutron, L1_gamma, L1_eminus, L1_eplus, L1_pion, L1_kaon, L1_proton];
const layer2 = [L2_neutron, L2_gamma, L2_eminus, L2_eplus, L2_pion, L2_kaon, L2_proton];

// ---------------- LAYOUT (pixels inside each canvas) ----------------
const panels = [
  { id:'c1', data:layer1, title:panelTitles[0], yMinExp:-5.796, yMaxExp:0.796,
    area:{left:167, right:1325, top:74, bottom:894},
    legend:{markX:251, labelX:299, titleY:133, row0:162, step:36.8, boxRight:594},
    geant:{right:1282, y:164}, cms:{x:170, y:68}, ylab:{x:82, top:73}, xlab:{right:1322, y:984} },
  { id:'c2', data:layer2, title:panelTitles[1], yMinExp:-5.795, yMaxExp:0.86,
    area:{left:201, right:1353, top:74, bottom:894},
    legend:{markX:286, labelX:337, titleY:131, row0:159, step:36.2, boxRight:636},
    geant:{right:1308, y:163}, cms:{x:201, y:67}, ylab:{x:130, top:72}, xlab:{right:1347, y:982} }
];

// ---------------- helpers ----------------
function drawScaled(ctx, s, x, y, font, sx) {
  ctx.save(); ctx.font = font; ctx.textAlign = 'left'; ctx.textBaseline = 'alphabetic';
  ctx.translate(x, y); ctx.scale(sx, 1); ctx.fillText(s, 0, 0); ctx.restore();
}
function textW(ctx, s, font) { ctx.save(); ctx.font = font; const w = ctx.measureText(s).width; ctx.restore(); return w; }
function fitText(ctx, s, x, y, font, targetW, align) {
  const w0 = textW(ctx, s, font); const sx = targetW / w0;
  let x0 = x; if (align === 'right') x0 = x - targetW; else if (align === 'center') x0 = x - targetW / 2;
  drawScaled(ctx, s, x0, y, font, sx); return targetW;
}
function powLabel(ctx, base, exp, x, y, align, bFont, eFont, sx, rise) {
  const wb = textW(ctx, base, bFont) * sx, we = exp ? textW(ctx, exp, eFont) * sx : 0;
  const tot = wb + we;
  let x0 = x; if (align === 'right') x0 = x - tot; else if (align === 'center') x0 = x - tot / 2;
  drawScaled(ctx, base, x0, y, bFont, sx);
  if (exp) drawScaled(ctx, exp, x0 + wb, y - rise, eFont, sx);
}

const SERIF_B = '"Liberation Serif", "Times New Roman", serif';
const SANS = '"Liberation Sans", Arial, Helvetica, sans-serif';

function rootPlugin(p) {
  return {
    id: 'rootstyle_' + p.id,
    beforeDatasetsDraw(chart) {
      const ctx = chart.ctx, a = chart.chartArea, xs = chart.scales.x, ys = chart.scales.y;
      // dotted horizontal grid at decades
      ctx.save();
      ctx.strokeStyle = '#555555'; ctx.lineWidth = 1; ctx.setLineDash([2, 2.5]);
      yTickValues.forEach(v => {
        const y = Math.round(ys.getPixelForValue(v)) + 0.5;
        const x0 = (v >= 0.1) ? p.legend.boxRight : a.left;
        ctx.beginPath(); ctx.moveTo(x0, y); ctx.lineTo(a.right, y); ctx.stroke();
      });
      ctx.restore();
      // frame
      ctx.save();
      ctx.strokeStyle = '#222222'; ctx.lineWidth = 1.6;
      ctx.beginPath(); ctx.moveTo(a.left, a.bottom); ctx.lineTo(a.left, a.top); ctx.lineTo(a.right, a.top); ctx.lineTo(a.right, a.bottom); ctx.stroke();
      // ticks y (left & right), inward
      const yMin = ys.min, yMax = ys.max;
      for (let e = Math.floor(Math.log10(yMin)); e <= Math.ceil(Math.log10(yMax)); e++) {
        for (let k = 1; k <= 9; k++) {
          const v = k * Math.pow(10, e);
          if (v < yMin || v > yMax) continue;
          const y = Math.round(ys.getPixelForValue(v)) + 0.5;
          const len = (k === 1) ? 33 : 17;
          ctx.lineWidth = 1.6;
          ctx.beginPath(); ctx.moveTo(a.left, y); ctx.lineTo(a.left + len, y); ctx.stroke();
          ctx.beginPath(); ctx.moveTo(a.right, y); ctx.lineTo(a.right - len, y); ctx.stroke();
        }
      }
      // ticks x (bottom & top), inward
      for (let e = -11; e <= 4; e++) {
        for (let k = 1; k <= 9; k++) {
          const v = k * Math.pow(10, e);
          if (v < xs.min * 0.999 || v > xs.max * 1.001) continue;
          const x = Math.round(xs.getPixelForValue(v)) + 0.5;
          const lb = (k === 1) ? 24 : 12, lt = (k === 1) ? 23 : 11;
          ctx.lineWidth = 1.4;
          ctx.beginPath(); ctx.moveTo(x, a.bottom); ctx.lineTo(x, a.bottom - lb); ctx.stroke();
          ctx.beginPath(); ctx.moveTo(x, a.top); ctx.lineTo(x, a.top + lt); ctx.stroke();
        }
      }
      // bottom axis line (dark navy)
      ctx.strokeStyle = '#1a1a5a'; ctx.lineWidth = 2.6;
      ctx.beginPath(); ctx.moveTo(a.left, a.bottom); ctx.lineTo(a.right, a.bottom); ctx.stroke();
      ctx.restore();
    },
    beforeDatasetDraw(chart, args) {
      const ds = chart.data.datasets[args.index];
      const ctx = chart.ctx, a = chart.chartArea, xs = chart.scales.x, ys = chart.scales.y;
      ctx.save();
      ctx.beginPath(); ctx.rect(a.left, a.top, a.right - a.left, a.bottom - a.top); ctx.clip();
      ctx.strokeStyle = ds.backgroundColor; ctx.lineWidth = 1.5;
      ds.errs.forEach((er, i) => {
        if (!er) return;
        const pt = ds.data[i];
        const x = xs.getPixelForValue(pt.x);
        const y1 = ys.getPixelForValue(pt.y / Math.pow(10, er[0]));
        const y2 = ys.getPixelForValue(pt.y * Math.pow(10, er[1]));
        ctx.beginPath(); ctx.moveTo(x, Math.min(y1, a.bottom + 2)); ctx.lineTo(x, y2); ctx.stroke();
      });
      ctx.restore();
    },
    afterDatasetsDraw(chart) {
      const ctx = chart.ctx, a = chart.chartArea, xs = chart.scales.x, ys = chart.scales.y;
      ctx.save();
      ctx.fillStyle = '#000000';
      // y tick labels
      yTickValues.forEach((v, i) => {
        const y = ys.getPixelForValue(v);
        const [b, e] = yTickLabels[i];
        powLabel(ctx, b, e, a.left - 13, y + 15, 'right', 'bold 36px ' + SERIF_B, 'bold 23px ' + SERIF_B, 0.9, 13);
      });
      // x tick labels
      xTickValues.forEach((v, i) => {
        const x = xs.getPixelForValue(v);
        const [b, e] = xTickLabels[i];
        powLabel(ctx, b, e, x, 940, 'center', 'bold 33px ' + SERIF_B, 'bold 23px ' + SERIF_B, 0.82, 10);
      });
      // axis titles
      fitText(ctx, 'Energy [MeV]', p.xlab.right, p.xlab.y, 'bold 46px ' + SERIF_B, 243, 'right');
      ctx.save();
      ctx.translate(p.ylab.x, p.ylab.top); ctx.rotate(-Math.PI / 2);
      ctx.font = 'bold 50px ' + SERIF_B; ctx.textAlign = 'left'; ctx.textBaseline = 'alphabetic';
      const wS = ctx.measureText('sensitivity').width;
      ctx.translate(-203, 0); ctx.scale(203 / wS, 1);
      ctx.fillText('sensitivity', 0, 0);
      ctx.restore();
      // CMS label
      const wC = fitText(ctx, 'CMS', p.cms.x, p.cms.y, 'bold 59px ' + SANS, 106, 'left');
      fitText(ctx, 'Simulation Preliminary', p.cms.x + wC + 5, p.cms.y, 'italic 33px ' + SANS, 314, 'left');
      // GEANT4
      fitText(ctx, 'GEANT4 Simulation', p.geant.right, p.geant.y, 'bold 28px ' + SERIF_B, 217, 'right');
      // legend
      const L = p.legend;
      fitText(ctx, p.title, L.labelX, L.titleY, 'bold 26px ' + SANS, 204, 'left');
      legendLabels.forEach((lab, i) => {
        const cy = L.row0 + i * L.step;
        const col = seriesColors[i];
        ctx.strokeStyle = col; ctx.fillStyle = col; ctx.lineWidth = 1.5;
        ctx.beginPath(); ctx.moveTo(L.markX, cy - 13); ctx.lineTo(L.markX, cy + 13); ctx.stroke();
        ctx.beginPath(); ctx.arc(L.markX, cy, 4.8, 0, Math.PI * 2); ctx.fill();
        ctx.fillStyle = '#000000';
        const bf = '29px ' + SANS, ef = '19px ' + SANS;
        const wb = textW(ctx, lab[0], bf) * 0.8;
        drawScaled(ctx, lab[0], L.labelX, cy + 8, bf, 0.8);
        if (lab[1]) drawScaled(ctx, lab[1], L.labelX + wb + 1, cy - 5, ef, 0.85);
      });
      ctx.restore();
    }
  };
}

function buildChart(p) {
  const cv = document.getElementById(p.id);
  const W = cv.width, H = cv.height;
  const datasets = p.data.map((arr, i) => ({
    label: seriesNames[i],
    data: arr.map(d => ({ x: Math.pow(10, d[0]), y: d[1] })),
    errs: arr.map(d => (d.length > 2 ? [d[2], d[3]] : null)),
    backgroundColor: seriesColors[i],
    borderColor: seriesColors[i],
    pointRadius: 5, pointHoverRadius: 5, pointBorderWidth: 0,
    pointStyle: 'circle', showLine: false, clip: false,
    order: p.data.length - i
  }));
  return new Chart(cv, {
    type: 'scatter',
    data: { datasets },
    options: {
      responsive: false, maintainAspectRatio: false, animation: false, devicePixelRatio: 1,
      events: [],
      layout: { padding: { left: 0, top: p.area.top, right: W - p.area.right, bottom: 0 } },
      plugins: { legend: { display: false }, tooltip: { enabled: false }, title: { display: false } },
      scales: {
        x: { type: 'logarithmic', position: 'bottom', min: 1e-11, max: 1e4,
             grid: { display: false }, border: { display: false }, ticks: { display: false },
             afterFit: s => { s.height = H - p.area.bottom; } },
        y: { type: 'logarithmic', position: 'left', min: Math.pow(10, p.yMinExp), max: Math.pow(10, p.yMaxExp),
             grid: { display: false }, border: { display: false }, ticks: { display: false },
             afterFit: s => { s.width = p.area.left; } }
      }
    },
    plugins: [rootPlugin(p)]
  });
}
panels.forEach(buildChart);
</script>
</body>
</html>
